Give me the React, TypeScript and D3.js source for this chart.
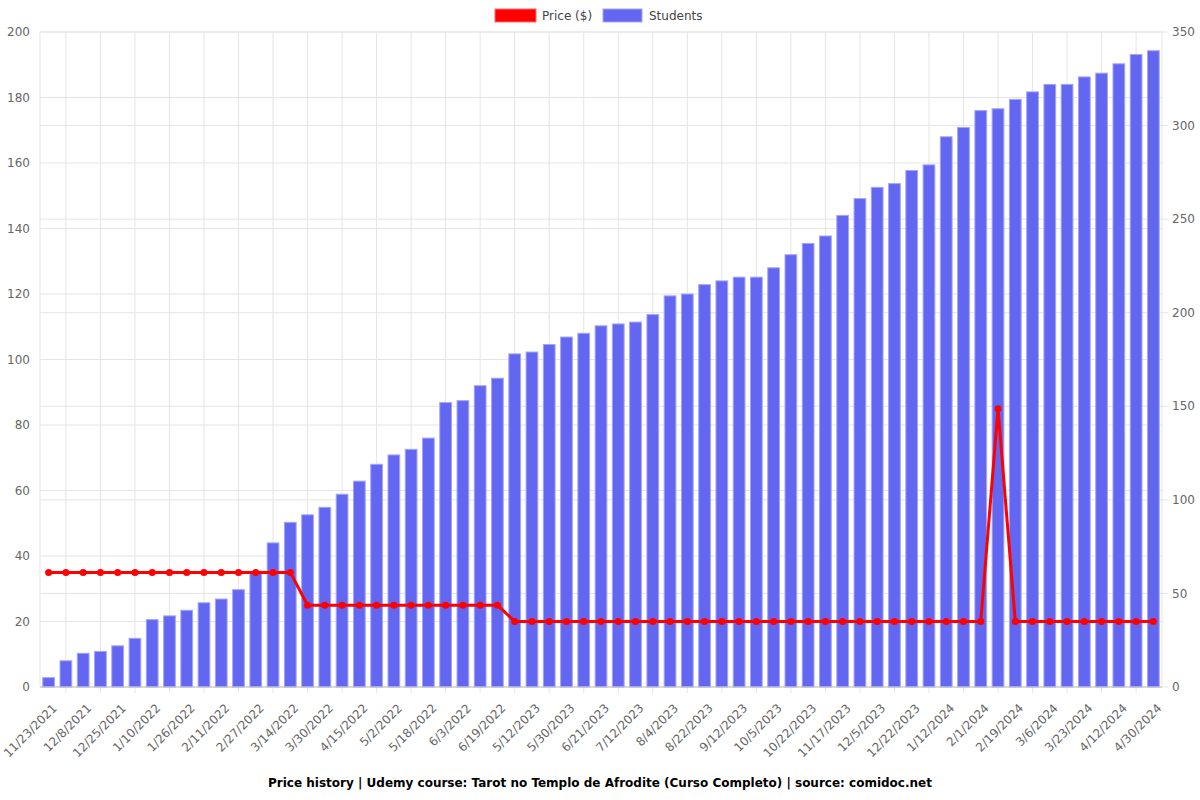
import React from 'react';
import * as d3 from 'd3';

// dates for every bar (only every other one is labelled on the axis)
const dates = [
  '11/23/2021', '12/1/2021', '12/8/2021', '12/16/2021', '12/25/2021', '1/2/2022', '1/10/2022', '1/18/2022',
  '1/26/2022', '2/3/2022', '2/11/2022', '2/19/2022', '2/27/2022', '3/7/2022', '3/14/2022', '3/22/2022',
  '3/30/2022', '4/7/2022', '4/15/2022', '4/24/2022', '5/2/2022', '5/10/2022', '5/18/2022', '5/26/2022',
  '6/3/2022', '6/11/2022', '6/19/2022', '4/24/2023', '5/12/2023', '5/21/2023', '5/30/2023', '6/10/2023',
  '6/21/2023', '7/1/2023', '7/12/2023', '7/24/2023', '8/4/2023', '8/13/2023', '8/22/2023', '9/1/2023',
  '9/12/2023', '9/24/2023', '10/5/2023', '10/13/2023', '10/22/2023', '11/4/2023', '11/17/2023', '11/26/2023',
  '12/5/2023', '12/13/2023', '12/22/2023', '1/2/2024', '1/12/2024', '1/22/2024', '2/1/2024', '2/10/2024',
  '2/19/2024', '2/27/2024', '3/6/2024', '3/14/2024', '3/23/2024', '4/2/2024', '4/12/2024', '4/21/2024',
  '4/30/2024',
];

const students = [
  5, 14, 18, 19, 22, 26, 36, 38, 41, 45, 47, 52, 61, 77, 88, 92,
  96, 103, 110, 119, 124, 127, 133, 152, 153, 161, 165, 178, 179, 183, 187, 189,
  193, 194, 195, 199, 209, 210, 215, 217, 219, 219, 224, 231, 237, 241, 252, 261,
  267, 269, 276, 279, 294, 299, 308, 309, 314, 318, 322, 322, 326, 328, 333, 338,
  340,
];

const price = [
  35, 35, 35, 35, 35, 35, 35, 35, 35, 35, 35, 35, 35, 35, 35, 25,
  25, 25, 25, 25, 25, 25, 25, 25, 25, 25, 25, 20, 20, 20, 20, 20,
  20, 20, 20, 20, 20, 20, 20, 20, 20, 20, 20, 20, 20, 20, 20, 20,
  20, 20, 20, 20, 20, 20, 20, 85, 20, 20, 20, 20, 20, 20, 20, 20,
  20,
];

const priceTicks = [0, 20, 40, 60, 80, 100, 120, 140, 160, 180, 200];
const studentTicks = [0, 50, 100, 150, 200, 250, 300, 350];

const title = 'Price history | Udemy course: Tarot no Templo de Afrodite (Curso Completo) | source: comidoc.net';

const W = 1200, H = 800;
const left = 40, right = 1162, top = 32, bottom = 687;
const font = '"DejaVu Sans", sans-serif';
const grid = '#e5e5e5';

export default function App() {
  const idx = dates.map((_, i) => i);
  const x = d3.scaleBand<number>().domain(idx).range([left, right]);
  const step = x.step();
  const cx = (i: number) => (x(i) as number) + step / 2;
  const barW = step * 0.68;

  const yL = d3.scaleLinear().domain([0, 200]).range([bottom, top]);
  const yR = d3.scaleLinear().domain([0, 350]).range([bottom, top]);

  const line = d3.line<number>().x((_, i) => cx(i)).y(d => yL(d));

  const labelled = idx.filter(i => i % 2 === 0);
  const gridXs = idx.filter(i => i % 2 === 1).map(i => cx(i));

  return (
    <svg width={W} height={H} style={{ position: 'absolute', left: 0, top: 0, background: '#fff' }} fontFamily={font}>
      {/* vertical grid */}
      {gridXs.map((gx, i) => (
        <line key={'vx' + i} x1={gx} x2={gx} y1={top} y2={bottom + 6} stroke={grid} />
      ))}
      {/* horizontal grid, left axis */}
      {priceTicks.map(t => (
        <line key={'hl' + t} x1={left} x2={right} y1={yL(t)} y2={yL(t)} stroke={grid} />
      ))}
      {/* horizontal grid, right axis */}
      {studentTicks.map(t => (
        <line key={'hr' + t} x1={left} x2={right + 6} y1={yR(t)} y2={yR(t)} stroke={grid} />
      ))}
      <line x1={left} x2={left} y1={top} y2={bottom} stroke={grid} />
      <line x1={right} x2={right} y1={top} y2={bottom} stroke={grid} />

      {/* bars */}
      {students.map((s, i) => (
        <rect key={'b' + i} x={cx(i) - barW / 2} y={yR(s)} width={barW} height={bottom - yR(s)}
          fill="#6366f1" stroke="#a3a5f7" strokeWidth={1} />
      ))}
      <line x1={left} x2={right} y1={bottom} y2={bottom} stroke="#c8c8c8" />

      {/* price line */}
      <path d={line(price) || ''} fill="none" stroke="#ff0000" strokeWidth={3} strokeLinejoin="round" />
      {price.map((p, i) => (
        <circle key={'p' + i} cx={cx(i)} cy={yL(p)} r={3.5} fill="#ff0000" />
      ))}

      {/* left axis labels */}
      {priceTicks.map(t => (
        <text key={'tl' + t} x={30} y={yL(t)} dy="0.35em" textAnchor="end" fontSize={12} fill="#666">{t}</text>
      ))}
      {/* right axis labels */}
      {studentTicks.map(t => (
        <text key={'tr' + t} x={1172} y={yR(t)} dy="0.35em" textAnchor="start" fontSize={12} fill="#666">{t}</text>
      ))}
      {/* x labels */}
      {labelled.map(i => (
        <text key={'xl' + i} transform={`translate(${cx(i) + 6},${706}) rotate(-45)`} textAnchor="end"
          dy="0.35em" fontSize={12} fill="#666">{dates[i]}</text>
      ))}

      {/* legend */}
      <rect x={495} y={9} width={41} height={13} fill="#ff0000" stroke="#ff6b6b" strokeWidth={1} />
      <text x={542} y={16} dy="0.35em" fontSize={12} fill="#444">Price ($)</text>
      <rect x={603} y={9} width={39} height={13} fill="#6366f1" stroke="#a3a5f7" strokeWidth={1} />
      <text x={649} y={16} dy="0.35em" fontSize={12} fill="#444">Students</text>

      {/* title */}
      <text x={600} y={783} dy="0.35em" textAnchor="middle" fontSize={12} fontWeight="bold" fill="#000">{title}</text>
    </svg>
  );
}
